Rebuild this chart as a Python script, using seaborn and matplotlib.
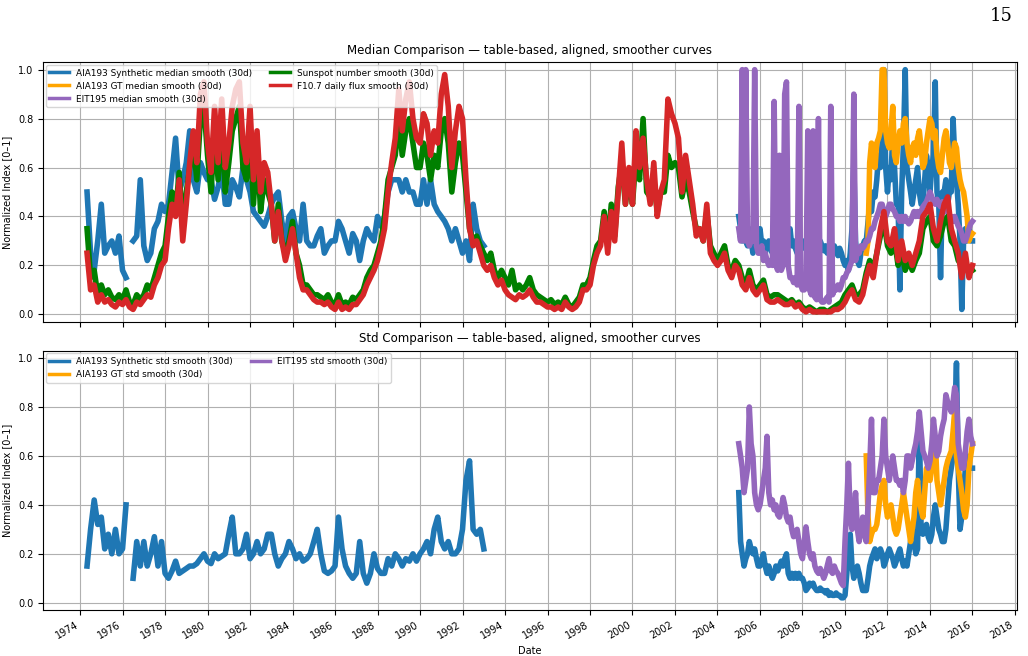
import numpy as np
import pandas as pd
import seaborn as sns
import matplotlib.pyplot as plt
import matplotlib.dates as mdates

# Valores (normalizados 0-1)
# Series largas: cada 2 meses desde mayo 1974 hasta enero 2016
fechas_bimes = pd.date_range("1974-05-01", "2016-01-01", freq="2MS")

f107 = [
    0.25, 0.10, 0.12, 0.05,
    0.08, 0.05, 0.06, 0.04, 0.03, 0.05,
    0.04, 0.06, 0.03, 0.02, 0.05, 0.04,
    0.06, 0.08, 0.07, 0.12, 0.15, 0.20,
    0.22, 0.35, 0.45, 0.40, 0.55, 0.30,
    0.45, 0.62, 0.75, 0.62, 0.90, 0.95,
    0.70, 0.58, 0.85, 0.62, 0.88, 0.60,
    0.70, 0.85, 0.92, 0.95, 0.70, 0.62,
    0.85, 0.55, 0.75, 0.50, 0.62, 0.58,
    0.45, 0.30, 0.42, 0.30, 0.22, 0.28,
    0.35, 0.25, 0.15, 0.10, 0.10, 0.08,
    0.06, 0.05, 0.05, 0.04, 0.05, 0.03,
    0.02, 0.05, 0.02, 0.03, 0.02, 0.04,
    0.04, 0.06, 0.08, 0.12, 0.15, 0.18,
    0.22, 0.28, 0.35, 0.50, 0.62, 0.72,
    0.92, 0.75, 0.88, 0.95, 0.80, 0.72,
    0.70, 0.82, 0.78, 0.65, 0.75, 0.70,
    0.90, 0.98, 0.85, 0.60, 0.75, 0.85,
    0.80, 0.55, 0.35, 0.28, 0.30, 0.25,
    0.20, 0.18, 0.20, 0.15, 0.12, 0.14,
    0.10, 0.08, 0.07, 0.06, 0.08, 0.07,
    0.08, 0.10, 0.07, 0.05, 0.05, 0.04,
    0.03, 0.03, 0.02, 0.03, 0.02, 0.05,
    0.03, 0.02, 0.03, 0.05, 0.10, 0.10,
    0.12, 0.20, 0.25, 0.28, 0.40, 0.25,
    0.42, 0.30, 0.50, 0.70, 0.45, 0.60,
    0.45, 0.75, 0.60, 0.72, 0.55, 0.45,
    0.62, 0.40, 0.50, 0.55, 0.88, 0.82,
    0.78, 0.72, 0.50, 0.65, 0.55, 0.45,
    0.32, 0.35, 0.30, 0.45, 0.25, 0.22,
    0.20, 0.22, 0.25, 0.18, 0.15, 0.20,
    0.18, 0.12, 0.10, 0.15, 0.10, 0.08,
    0.10, 0.12, 0.06, 0.05, 0.05, 0.06,
    0.05, 0.04, 0.04, 0.05, 0.03, 0.04,
    0.02, 0.01, 0.02, 0.01, 0.01, 0.01,
    0.01, 0.01, 0.01, 0.02, 0.02, 0.03,
    0.05, 0.08, 0.10, 0.06, 0.05, 0.08,
    0.15, 0.20, 0.15, 0.25, 0.35, 0.42,
    0.30, 0.28, 0.35, 0.22, 0.30, 0.22,
    0.25, 0.20, 0.25, 0.30, 0.40, 0.42,
    0.45, 0.35, 0.30, 0.38, 0.45, 0.48,
    0.35, 0.30, 0.25, 0.15, 0.25, 0.15,
    0.20,
]

sunspot = [
    0.35, 0.15, 0.18, 0.08,
    0.12, 0.08, 0.10, 0.07, 0.06, 0.08,
    0.06, 0.10, 0.05, 0.04, 0.08, 0.06,
    0.08, 0.12, 0.10, 0.15, 0.20, 0.25,
    0.28, 0.40, 0.50, 0.42, 0.58, 0.35,
    0.50, 0.60, 0.70, 0.55, 0.80, 0.85,
    0.65, 0.50, 0.75, 0.55, 0.80, 0.50,
    0.62, 0.75, 0.80, 0.85, 0.60, 0.55,
    0.75, 0.45, 0.70, 0.42, 0.55, 0.50,
    0.45, 0.30, 0.45, 0.30, 0.25, 0.30,
    0.38, 0.25, 0.20, 0.12, 0.12, 0.10,
    0.08, 0.08, 0.07, 0.06, 0.08, 0.05,
    0.04, 0.08, 0.04, 0.05, 0.04, 0.07,
    0.06, 0.08, 0.10, 0.15, 0.18, 0.20,
    0.25, 0.30, 0.40, 0.55, 0.60, 0.65,
    0.80, 0.65, 0.75, 0.80, 0.70, 0.60,
    0.60, 0.70, 0.65, 0.55, 0.65, 0.60,
    0.75, 0.80, 0.70, 0.50, 0.62, 0.70,
    0.65, 0.50, 0.35, 0.30, 0.32, 0.28,
    0.25, 0.22, 0.25, 0.18, 0.15, 0.18,
    0.15, 0.12, 0.18, 0.10, 0.12, 0.10,
    0.12, 0.15, 0.10, 0.08, 0.07, 0.06,
    0.05, 0.06, 0.04, 0.05, 0.04, 0.07,
    0.04, 0.03, 0.05, 0.07, 0.12, 0.12,
    0.15, 0.22, 0.28, 0.30, 0.42, 0.28,
    0.45, 0.32, 0.52, 0.62, 0.45, 0.55,
    0.45, 0.65, 0.55, 0.80, 0.50, 0.48,
    0.55, 0.42, 0.50, 0.50, 0.65, 0.60,
    0.62, 0.60, 0.48, 0.55, 0.50, 0.42,
    0.35, 0.35, 0.30, 0.42, 0.28, 0.25,
    0.22, 0.25, 0.28, 0.20, 0.18, 0.22,
    0.20, 0.15, 0.12, 0.18, 0.12, 0.10,
    0.12, 0.14, 0.08, 0.07, 0.08, 0.08,
    0.07, 0.06, 0.05, 0.06, 0.04, 0.05,
    0.03, 0.02, 0.03, 0.02, 0.01, 0.02,
    0.02, 0.01, 0.02, 0.03, 0.04, 0.05,
    0.08, 0.10, 0.12, 0.08, 0.08, 0.10,
    0.17, 0.22, 0.18, 0.25, 0.32, 0.38,
    0.28, 0.25, 0.30, 0.20, 0.25, 0.18,
    0.22, 0.18, 0.22, 0.25, 0.35, 0.38,
    0.40, 0.30, 0.28, 0.32, 0.38, 0.40,
    0.30, 0.28, 0.22, 0.20, 0.22, 0.17,
    0.18,
]

# AIA193 sintetico 1974-1993 (cada 2 meses, hueco en 1976)
fechas_sint = pd.date_range("1974-05-01", "1993-01-01", freq="2MS")

med_sint_temprano = [
    0.50, 0.25, 0.18, 0.30,
    0.45, 0.25, 0.28, 0.30, 0.25, 0.32,
    0.18, 0.15, np.nan, 0.30, 0.32, 0.55,
    0.28, 0.22, 0.25, 0.35, 0.38, 0.45,
    0.42, 0.45, 0.58, 0.72, 0.50, 0.55,
    0.62, 0.75, 0.55, 0.50, 0.62, 0.58,
    0.55, 0.55, 0.47, 0.52, 0.60, 0.45,
    0.45, 0.55, 0.52, 0.48, 0.60, 0.55,
    0.50, 0.42, 0.40, 0.38, 0.36, 0.40,
    0.45, 0.48, 0.50, 0.38, 0.30, 0.40,
    0.42, 0.35, 0.30, 0.45, 0.30, 0.28,
    0.28, 0.32, 0.35, 0.25, 0.28, 0.30,
    0.30, 0.38, 0.35, 0.30, 0.25, 0.33,
    0.30, 0.22, 0.30, 0.35, 0.32, 0.30,
    0.40, 0.36, 0.40, 0.50, 0.55, 0.55,
    0.55, 0.50, 0.55, 0.50, 0.50, 0.45,
    0.45, 0.55, 0.45, 0.55, 0.45, 0.42,
    0.40, 0.38, 0.35, 0.30, 0.35, 0.30,
    0.25, 0.30, 0.22, 0.45, 0.35, 0.30,
    0.28,
]

std_sint_temprano = [
    0.15, 0.30, 0.42, 0.32,
    0.35, 0.22, 0.28, 0.20, 0.30, 0.20,
    0.22, 0.40, np.nan, 0.10, 0.25, 0.15,
    0.25, 0.15, 0.20, 0.27, 0.15, 0.25,
    0.12, 0.10, 0.13, 0.17, 0.12, 0.13,
    0.14, 0.15, 0.15, 0.16, 0.18, 0.20,
    0.17, 0.16, 0.20, 0.18, 0.19, 0.20,
    0.28, 0.35, 0.20, 0.20, 0.22, 0.28,
    0.18, 0.20, 0.25, 0.20, 0.22, 0.28,
    0.28, 0.20, 0.15, 0.18, 0.20, 0.25,
    0.22, 0.18, 0.20, 0.17, 0.18, 0.20,
    0.25, 0.30, 0.20, 0.13, 0.12, 0.13,
    0.15, 0.35, 0.22, 0.15, 0.12, 0.10,
    0.12, 0.25, 0.12, 0.08, 0.12, 0.20,
    0.14, 0.12, 0.12, 0.18, 0.15, 0.20,
    0.18, 0.15, 0.18, 0.17, 0.20, 0.17,
    0.20, 0.22, 0.25, 0.20, 0.30, 0.35,
    0.25, 0.22, 0.25, 0.20, 0.20, 0.22,
    0.30, 0.50, 0.58, 0.30, 0.28, 0.30,
    0.22,
]

# Epoca EIT/AIA: mensual desde enero 2005 hasta enero 2016
fechas_mes = pd.date_range("2005-01-01", "2016-01-01", freq="MS")

med_sint_tardio = [
    0.40, 0.35, 0.30, 0.42, 0.30, 0.28, 0.35, 0.30, 0.25, 0.30, 0.28, 0.30,
    0.35, 0.28, 0.30, 0.25, 0.28, 0.30, 0.27, 0.25, 0.30, 0.28, 0.26, 0.30,
    0.28, 0.30, 0.32, 0.27, 0.30, 0.35, 0.28, 0.30, 0.27, 0.25, 0.28, 0.30,
    0.27, 0.30, 0.28, 0.25, 0.30, 0.32, 0.28, 0.30, 0.27, 0.25, 0.30, 0.28,
    0.26, 0.28, 0.25, 0.27, 0.30, 0.25, 0.28, 0.26, 0.24, 0.27, 0.25, 0.22,
    0.20, 0.22, 0.18, 0.25, 0.35, 0.62, 0.30, 0.22, 0.20, 0.25, 0.28, 0.30,
    0.30, 0.38, 0.45, 0.42, 0.50, 0.48, 0.55, 0.65, 0.60, 0.70, 1.00, 0.60,
    0.50, 0.60, 0.55, 0.75, 0.60, 0.45, 0.45, 0.10, 0.50, 0.70, 1.00, 0.60,
    0.55, 0.50, 0.45, 0.50, 0.55, 0.60, 0.50, 0.45, 0.45, 0.55, 0.65, 0.60,
    0.50, 0.60, 0.65, 0.95, 0.50, 0.45, 0.15, 0.50, 0.50, 0.55, 0.45, 0.50,
    0.50, 0.80, 0.65, 0.55, 0.45, 0.30, 0.02, 0.30, 0.35, 0.30, 0.35, 0.30,
    0.30,
]

med_eit = [
    0.35, 0.30, 1.00, 0.30, 1.00, 0.30, 0.28, 0.30, 0.30, 1.00, 0.28, 0.25,
    0.25, 0.28, 0.22, 0.25, 0.22, 0.20, 0.22, 0.20, 0.87, 0.20, 0.18, 0.65,
    0.18, 0.20, 0.90, 0.95, 0.20, 0.15, 0.15, 0.13, 0.15, 0.12, 0.85, 0.12,
    0.10, 0.10, 0.12, 0.75, 0.10, 0.08, 0.75, 0.07, 0.06, 0.80, 0.06, 0.05,
    0.05, 0.06, 0.07, 0.05, 0.85, 0.08, 0.10, 0.10, 0.12, 0.10, 0.12, 0.15,
    0.15, 0.17, 0.18, 0.20, 0.22, 0.90, 0.22, 0.25, 0.25, 0.28, 0.27, 0.28,
    0.30, 0.30, 0.32, 0.35, 0.35, 0.38, 0.40, 0.42, 0.45, 0.45, 0.42, 0.40,
    0.42, 0.45, 0.45, 0.43, 0.42, 0.40, 0.40, 0.38, 0.40, 0.38, 0.40, 0.38,
    0.37, 0.38, 0.40, 0.42, 0.40, 0.42, 0.40, 0.42, 0.44, 0.45, 0.46, 0.48,
    0.50, 0.48, 0.46, 0.45, 0.47, 0.45, 0.44, 0.46, 0.45, 0.42, 0.42, 0.40,
    0.40, 0.38, 0.40, 0.38, 0.36, 0.35, 0.33, 0.30, 0.30, 0.32, 0.35, 0.37,
    0.38,
]

std_sint_tardio = [
    0.45, 0.25, 0.20, 0.15, 0.18, 0.20, 0.25, 0.22, 0.20, 0.22, 0.18, 0.15,
    0.15, 0.18, 0.20, 0.15, 0.12, 0.15, 0.12, 0.10, 0.12, 0.15, 0.13, 0.15,
    0.17, 0.15, 0.18, 0.20, 0.12, 0.10, 0.12, 0.10, 0.12, 0.10, 0.12, 0.10,
    0.10, 0.08, 0.05, 0.06, 0.08, 0.07, 0.08, 0.06, 0.05, 0.05, 0.06, 0.05,
    0.05, 0.04, 0.05, 0.03, 0.04, 0.03, 0.03, 0.04, 0.03, 0.03, 0.02, 0.02,
    0.03, 0.12, 0.22, 0.28, 0.15, 0.10, 0.12, 0.15, 0.12, 0.08, 0.05, 0.05,
    0.05, 0.10, 0.15, 0.18, 0.20, 0.22, 0.18, 0.20, 0.22, 0.20, 0.15, 0.17,
    0.20, 0.22, 0.20, 0.18, 0.15, 0.17, 0.20, 0.22, 0.18, 0.15, 0.17, 0.15,
    0.20, 0.25, 0.30, 0.25, 0.20, 0.22, 0.75, 0.30, 0.28, 0.30, 0.32, 0.27,
    0.25, 0.28, 0.35, 0.40, 0.35, 0.30, 0.28, 0.25, 0.25, 0.30, 0.40, 0.50,
    0.55, 0.60, 0.75, 0.98, 0.55, 0.30, 0.35, 0.45, 0.55, 0.60, 0.55, 0.55,
    0.55,
]

std_eit = [
    0.65, 0.60, 0.55, 0.45, 0.50, 0.55, 0.80, 0.65, 0.60, 0.45, 0.40, 0.38,
    0.40, 0.45, 0.50, 0.55, 0.68, 0.45, 0.40, 0.42, 0.38, 0.40, 0.36, 0.35,
    0.38, 0.43, 0.40, 0.35, 0.33, 0.35, 0.30, 0.27, 0.28, 0.30, 0.25, 0.20,
    0.18, 0.25, 0.31, 0.25, 0.20, 0.18, 0.20, 0.15, 0.13, 0.12, 0.14, 0.12,
    0.10, 0.12, 0.15, 0.18, 0.13, 0.12, 0.15, 0.13, 0.12, 0.10, 0.08, 0.07,
    0.25, 0.40, 0.57, 0.35, 0.30, 0.35, 0.45, 0.30, 0.25, 0.30, 0.35, 0.28,
    0.25, 0.40, 0.55, 0.75, 0.45, 0.45, 0.50, 0.50, 0.55, 0.60, 0.75, 0.60,
    0.55, 0.50, 0.55, 0.60, 0.55, 0.50, 0.50, 0.48, 0.50, 0.45, 0.50, 0.60,
    0.60, 0.55, 0.58, 0.62, 0.65, 0.70, 0.78, 0.70, 0.62, 0.60, 0.58, 0.55,
    0.58, 0.65, 0.75, 0.68, 0.60, 0.62, 0.68, 0.72, 0.75, 0.85, 0.82, 0.80,
    0.78, 0.82, 0.88, 0.85, 0.65, 0.60, 0.55, 0.55, 0.62, 0.70, 0.75, 0.68,
    0.65,
]

# AIA193 GT: mensual desde enero 2011
fechas_gt = pd.date_range("2011-01-01", "2016-01-01", freq="MS")

med_gt = [
    0.25, 0.30, 0.62, 0.70, 0.65, 0.60, 0.70, 0.72, 0.75, 1.00, 1.00, 0.75,
    0.70, 0.68, 0.75, 0.85, 0.65, 0.62, 0.70, 0.75, 0.70, 0.78, 0.80, 0.70,
    0.65, 0.62, 0.68, 0.70, 0.65, 0.72, 0.75, 0.68, 0.60, 0.62, 0.70, 0.75,
    0.80, 0.78, 0.72, 0.75, 0.65, 0.60, 0.58, 0.65, 0.72, 0.75, 0.70, 0.62,
    0.60, 0.65, 0.70, 0.68, 0.60, 0.55, 0.52, 0.50, 0.45, 0.40, 0.30, 0.32,
    0.33,
]

std_gt = [
    0.60, 0.35, 0.25, 0.28, 0.30, 0.30, 0.32, 0.38, 0.45, 0.48, 0.50, 0.40,
    0.35, 0.38, 0.40, 0.35, 0.30, 0.28, 0.30, 0.35, 0.40, 0.45, 0.40, 0.35,
    0.30, 0.25, 0.30, 0.35, 0.45, 0.50, 0.42, 0.38, 0.35, 0.45, 0.55, 0.52,
    0.50, 0.55, 0.60, 0.67, 0.50, 0.45, 0.40, 0.45, 0.50, 0.55, 0.58, 0.60,
    0.62, 0.70, 0.78, 0.60, 0.55, 0.50, 0.45, 0.38, 0.35, 0.40, 0.55, 0.60,
    0.65,
]

AZUL = "#1f77b4"
NARANJA = "orange"
MORADO = "#9467bd"
VERDE = "green"
ROJO = "#d62728"


def dibujar(ax, fechas, valores, color, etiqueta):
    # cortar la serie donde hay huecos para no unirlos
    s = pd.Series(valores, index=fechas)
    grupos = s.isna().cumsum()
    primero = True
    for _, trozo in s.groupby(grupos):
        trozo = trozo.dropna()
        if len(trozo) == 0:
            continue
        sns.lineplot(x=trozo.index, y=trozo.values, ax=ax, color=color, lw=4,
                     label=etiqueta if primero else "_nolegend_")
        primero = False


fig, (ax1, ax2) = plt.subplots(2, 1, figsize=(10.28, 6.56), dpi=100, sharex=True)
fig.subplots_adjust(left=0.042, right=0.989, top=0.905, bottom=0.070, hspace=0.112)

# Panel de medianas
dibujar(ax1, fechas_sint, med_sint_temprano, AZUL, "AIA193 Synthetic median smooth (30d)")
dibujar(ax1, fechas_mes, med_sint_tardio, AZUL, None)
dibujar(ax1, fechas_gt, med_gt, NARANJA, "AIA193 GT median smooth (30d)")
dibujar(ax1, fechas_mes, med_eit, MORADO, "EIT195 median smooth (30d)")
dibujar(ax1, fechas_bimes, sunspot, VERDE, "Sunspot number smooth (30d)")
dibujar(ax1, fechas_bimes, f107, ROJO, "F10.7 daily flux smooth (30d)")

# Panel de desviaciones
dibujar(ax2, fechas_sint, std_sint_temprano, AZUL, "AIA193 Synthetic std smooth (30d)")
dibujar(ax2, fechas_mes, std_sint_tardio, AZUL, None)
dibujar(ax2, fechas_gt, std_gt, NARANJA, "AIA193 GT std smooth (30d)")
dibujar(ax2, fechas_mes, std_eit, MORADO, "EIT195 std smooth (30d)")

ax1.set_title("Median Comparison — table-based, aligned, smoother curves", fontsize=8.5)
ax2.set_title("Std Comparison — table-based, aligned, smoother curves", fontsize=8.5)

for ax in (ax1, ax2):
    ax.set_ylim(-0.03, 1.03)
    ax.set_ylabel("Normalized Index [0–1]", fontsize=7)
    ax.grid(True, color="#b0b0b0", lw=0.8)
    ax.tick_params(labelsize=7)
    leg = ax.legend(loc="upper left", ncol=2, fontsize=6.4, handlelength=2.2,
                    borderaxespad=0.3, columnspacing=2.0, labelspacing=0.45)
    for ln in leg.get_lines():
        ln.set_linewidth(2.5)

ax2.set_xlim(pd.Timestamp("1972-04-07"), pd.Timestamp("2018-01-30"))
ax2.xaxis.set_major_locator(mdates.YearLocator(2))
ax2.xaxis.set_major_formatter(mdates.DateFormatter("%Y"))
plt.setp(ax2.get_xticklabels(), rotation=30, ha="right")
ax2.set_xlabel("Date", fontsize=7)
ax1.set_xlabel("")

fig.text(0.985, 0.99, "15", ha="right", va="top", fontsize=13, family="DejaVu Serif")

plt.savefig("out.png", dpi=100)
